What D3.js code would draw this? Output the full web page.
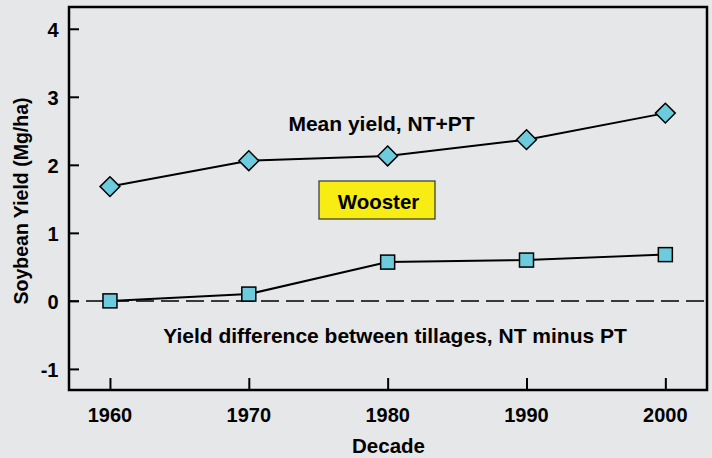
<!DOCTYPE html>
<html><head><meta charset="utf-8">
<script src="https://cdn.jsdelivr.net/npm/d3@7"></script>
<style>
html,body{margin:0;padding:0;background:#e6e7e9;}
svg{display:block;font-family:"Liberation Sans",Arial,sans-serif;}
</style></head>
<body><svg id="c" width="712" height="458"></svg>
<script>
const decades = [1960, 1970, 1980, 1990, 2000];
const meanYield = [1.68, 2.06, 2.13, 2.37, 2.76];
const yieldDiff = [0.00, 0.10, 0.57, 0.60, 0.68];
const xTicks = [1960, 1970, 1980, 1990, 2000];
const yTicks = [-1, 0, 1, 2, 3, 4];

const svg = d3.select("#c");
const L = 69, R = 707, T = 7, B = 390;
const x = d3.scaleLinear().domain([1957.05, 2003]).range([L, R]);
const y = d3.scaleLinear().domain([-1.31, 4.32]).range([B, T]);

// zero dashed line
svg.append("line").attr("x1", L).attr("x2", R).attr("y1", y(0)).attr("y2", y(0))
  .attr("stroke", "#000").attr("stroke-width", 1.5).attr("stroke-dasharray", "18,7")
  .attr("stroke-dashoffset", 8);

// axes (inward ticks)
const yAxis = svg.append("g").attr("transform", `translate(${L},0)`)
  .call(d3.axisRight(y).tickValues(yTicks).tickSize(10).tickFormat(""));
const xAxis = svg.append("g").attr("transform", `translate(0,${B})`)
  .call(d3.axisTop(x).tickValues(xTicks).tickSize(12).tickFormat(""));
[yAxis, xAxis].forEach(g => {
  g.select(".domain").remove();
  g.selectAll(".tick line").attr("stroke", "#000").attr("stroke-width", 2);
});

// frame
svg.append("rect").attr("x", L).attr("y", T).attr("width", R - L).attr("height", B - T)
  .attr("fill", "none").attr("stroke", "#000").attr("stroke-width", 2.5);

// tick labels
svg.append("g").selectAll("text").data(yTicks).join("text")
  .attr("x", 58.5).attr("y", d => y(d) + 8).attr("text-anchor", "end")
  .attr("font-size", 20).attr("font-weight", "bold").text(d => d);
svg.append("g").selectAll("text").data(xTicks).join("text")
  .attr("x", d => x(d)).attr("y", 421.5).attr("text-anchor", "middle")
  .attr("font-size", 20).attr("font-weight", "bold").text(d => d);

// axis titles
svg.append("text").attr("x", (L + R) / 2 + 0.5).attr("y", 453).attr("text-anchor", "middle")
  .attr("font-size", 20.5).attr("font-weight", "bold").text("Decade");
svg.append("text").attr("transform", "translate(28,201) rotate(-90)").attr("text-anchor", "middle")
  .attr("font-size", 19.5).attr("font-weight", "bold").text("Soybean Yield (Mg/ha)");

// lines
const line = d3.line().x((d, i) => x(decades[i])).y(d => y(d));
[meanYield, yieldDiff].forEach(s => {
  svg.append("path").attr("d", line(s)).attr("fill", "none")
    .attr("stroke", "#000").attr("stroke-width", 2);
});

const fill = "#6ccbdc";
// diamonds
svg.append("g").selectAll("path").data(meanYield).join("path")
  .attr("d", d3.symbol().type(d3.symbolDiamond2).size(250))
  .attr("transform", (d, i) => `translate(${x(decades[i])},${y(d)})`)
  .attr("fill", fill).attr("stroke", "#000").attr("stroke-width", 1.5);
// squares
svg.append("g").selectAll("rect").data(yieldDiff).join("rect")
  .attr("x", (d, i) => x(decades[i]) - 7).attr("y", d => y(d) - 7)
  .attr("width", 14).attr("height", 14)
  .attr("fill", fill).attr("stroke", "#000").attr("stroke-width", 1.5);

// annotations
svg.append("text").attr("x", 381.5).attr("y", 131).attr("text-anchor", "middle")
  .attr("font-size", 21).attr("font-weight", "bold").text("Mean yield, NT+PT");
svg.append("text").attr("x", 395).attr("y", 343).attr("text-anchor", "middle")
  .attr("font-size", 21).attr("font-weight", "bold").text("Yield difference between tillages, NT minus PT");

svg.append("rect").attr("x", 319).attr("y", 181).attr("width", 116).attr("height", 38)
  .attr("fill", "#f7ec14").attr("stroke", "#333").attr("stroke-width", 1.2);
svg.append("text").attr("x", 378.5).attr("y", 209).attr("text-anchor", "middle")
  .attr("font-size", 20.5).attr("font-weight", "bold").text("Wooster");
</script></body></html>
